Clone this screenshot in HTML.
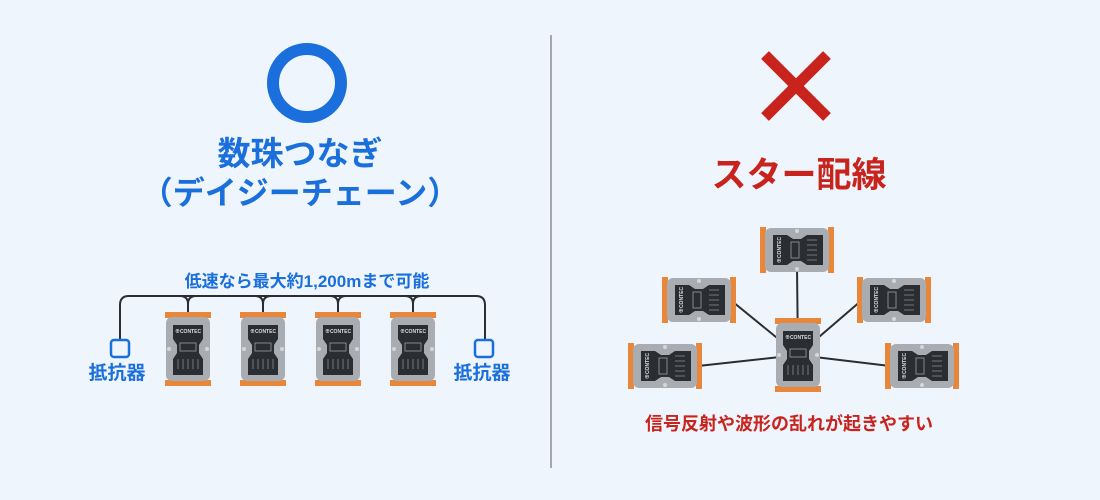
<!DOCTYPE html>
<html><head><meta charset="utf-8"><style>
html,body{margin:0;padding:0;background:#eef5fc;}
svg{display:block;}
text{font-family:"Liberation Sans","Noto Sans CJK JP",sans-serif;font-weight:bold;}
</style></head><body>
<svg width="1100" height="500" viewBox="0 0 1100 500" xmlns="http://www.w3.org/2000/svg">
<defs>
<g id="dv">
 <rect x="-23" y="-37" width="46" height="6" fill="#e8873a"/>
 <rect x="-23" y="31" width="46" height="6" fill="#e8873a"/>
 <rect x="-22" y="-32" width="44" height="64" rx="6" fill="#a9adb2"/>
 <path d="M-15,-24 h30 v14 l-4,6 v8 l4,6 v16 h-30 v-16 l4,-6 v-8 l-4,-6z" fill="#2a2d31"/>
 <text x="0" y="-16" font-size="5" fill="#ddd" text-anchor="middle">⊕CONTEC</text>
 <rect x="-8" y="-6" width="16" height="8" fill="none" stroke="#888" stroke-width="1"/>
 <g stroke="#777" stroke-width="1"><line x1="-10" y1="10" x2="-10" y2="20"/><line x1="-5" y1="10" x2="-5" y2="20"/><line x1="0" y1="10" x2="0" y2="20"/><line x1="5" y1="10" x2="5" y2="20"/><line x1="10" y1="10" x2="10" y2="20"/></g>
 <circle cx="-19" cy="0" r="2" fill="#d5d7da"/><circle cx="19" cy="0" r="2" fill="#d5d7da"/>
</g>
</defs>
<line x1="551" y1="35" x2="551" y2="468" stroke="#8a8f95" stroke-width="1.5"/>
<circle cx="307" cy="83" r="34" fill="none" stroke="#1a6fdc" stroke-width="12"/>
<text x="300" y="165" font-size="33" fill="#1a6fdc" text-anchor="middle">数珠つなぎ</text>
<text x="300" y="204" font-size="32" fill="#1a6fdc" text-anchor="middle">（デイジーチェーン）</text>
<text x="307" y="287" font-size="17" fill="#1a6fdc" text-anchor="middle">低速なら最大約1,200mまで可能</text>
<g fill="none" stroke="#2a2d31" stroke-width="2">
 <path d="M120,340 V305 Q120,296 129,296 H476 Q485,296 485,305 V340"/>
 <path d="M180,296 Q188,296 188,304 V313 M196,296 Q188,296 188,304"/>
 <path d="M255,296 Q263,296 263,304 V313 M271,296 Q263,296 263,304"/>
 <path d="M330,296 Q338,296 338,304 V313 M346,296 Q338,296 338,304"/>
 <path d="M405,296 Q413,296 413,304 V313 M421,296 Q413,296 413,304"/>
</g>
<rect x="111" y="340" width="18" height="17" rx="3" fill="none" stroke="#1a6fdc" stroke-width="2.5"/>
<rect x="475" y="340" width="18" height="17" rx="3" fill="none" stroke="#1a6fdc" stroke-width="2.5"/>
<text x="117" y="379" font-size="19" fill="#1a6fdc" text-anchor="middle">抵抗器</text>
<text x="482" y="379" font-size="19" fill="#1a6fdc" text-anchor="middle">抵抗器</text>
<use href="#dv" transform="translate(188,349)"/>
<use href="#dv" transform="translate(263,349)"/>
<use href="#dv" transform="translate(338,349)"/>
<use href="#dv" transform="translate(413,349)"/>
<g stroke="#c8231c" stroke-width="11" stroke-linecap="butt"><line x1="765" y1="55" x2="827" y2="117"/><line x1="827" y1="55" x2="765" y2="117"/></g>
<text x="799" y="187" font-size="35" fill="#c8231c" text-anchor="middle">スター配線</text>
<g stroke="#2a2d31" stroke-width="2">
 <line x1="798" y1="355" x2="797" y2="268"/>
 <line x1="798" y1="355" x2="733" y2="302"/>
 <line x1="798" y1="355" x2="862" y2="300"/>
 <line x1="798" y1="355" x2="698" y2="366"/>
 <line x1="798" y1="355" x2="890" y2="366"/>
</g>
<use href="#dv" transform="translate(797,250) rotate(-90)"/>
<use href="#dv" transform="translate(699,300) rotate(-90)"/>
<use href="#dv" transform="translate(894,300) rotate(-90)"/>
<use href="#dv" transform="translate(665,366) rotate(-90)"/>
<use href="#dv" transform="translate(922,366) rotate(-90)"/>
<use href="#dv" transform="translate(798,355)"/>
<text x="789" y="430" font-size="18" fill="#c8231c" text-anchor="middle">信号反射や波形の乱れが起きやすい</text>
</svg>
</body></html>
